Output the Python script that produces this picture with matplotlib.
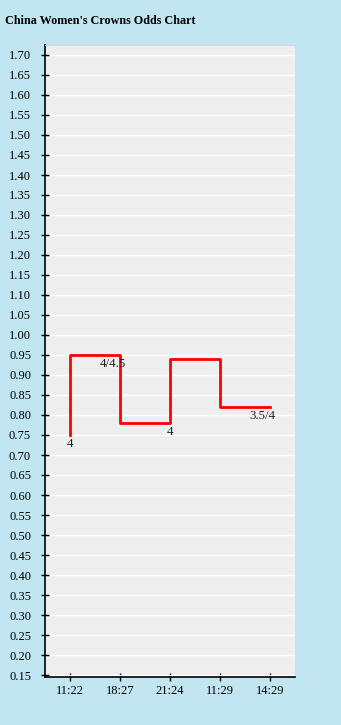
import numpy as np
import matplotlib
matplotlib.use('Agg')
import matplotlib.pyplot as plt

times = ['11:22', '18:27', '21:24', '11:29', '14:29']
odds = [0.75, 0.95, 0.78, 0.94, 0.82]
# handicap label shown at some points (index, text)
label_idx = [0, 1, 2, 4]
label_txt = ['4', '4/4.5', '4', '3.5/4']
yticks = np.round(np.arange(0.15, 1.7001, 0.05), 2)

plt.rcParams['font.family'] = ['Liberation Serif', 'DejaVu Serif']

fig = plt.figure(figsize=(3.41, 7.25), dpi=100)
fig.patch.set_facecolor('#c1e6f1')
ax = fig.add_axes([45/341, 48/725, 250/341, 632/725])
ax.set_facecolor('#eeeeee')

x = np.arange(len(times))
ax.plot(x, odds, drawstyle='steps-pre', color='#ff0000', lw=2, zorder=3)

offsets = {0: (0, -2), 1: (-5, -2), 2: (0, -2), 4: (-5.5, -2)}
for i, t in zip(label_idx, label_txt):
    ax.annotate(t, (x[i], odds[i]), xytext=offsets[i], textcoords='offset points',
                ha='center', va='top', fontsize=9.3, color='#222222', zorder=4)

ax.set_xlim(-0.5, 4.5)
ax.set_ylim(0.145, 1.725)
ax.set_xticks(x)
ax.set_xticklabels(times)
ax.set_yticks(yticks)
ax.set_yticklabels(['%.2f' % v for v in yticks])
ax.yaxis.grid(True, color='white', lw=1)
ax.set_axisbelow(True)

ax.spines['right'].set_visible(False)
ax.spines['top'].set_color('#d6d6d6')
ax.spines['top'].set_linewidth(0.8)
ax.spines['left'].set_linewidth(1.2)
ax.spines['bottom'].set_linewidth(1.2)
ax.tick_params(axis='y', direction='inout', length=6, width=1, pad=7, labelsize=9, colors='black')
ax.tick_params(axis='x', direction='inout', length=6, width=1, pad=3, labelsize=9, colors='black')

fig.text(5/341, 1 - 21/725, "China Women's Crowns Odds Chart", fontsize=8.7,
         fontweight='bold', va='center', ha='left')

fig.savefig('out.png', dpi=100, facecolor=fig.get_facecolor())
